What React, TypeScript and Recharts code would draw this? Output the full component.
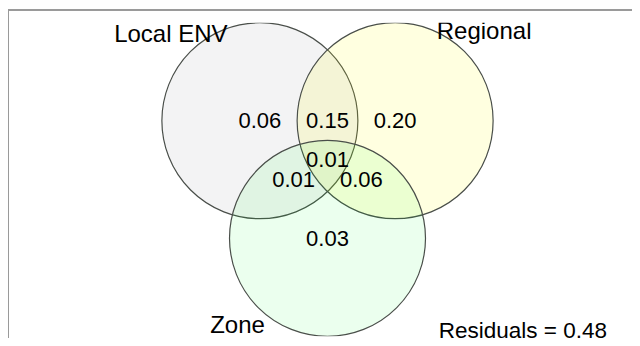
import { ScatterChart, Scatter, XAxis, YAxis, Cell } from "recharts";

// Fitted circles (centres and radii in diagram units)
const setNames = ["Local ENV", "Regional", "Zone"];
const centerX = [-0.69, 0.69, 0];
const centerY = [0.6, 0.6, -0.6];
const radii = [1, 1, 1];

// Proportion of variance for each region, listed by the sets it belongs to
const regionSets = [[0], [0, 1], [1], [0, 1, 2], [0, 2], [1, 2], [2]];
const regionValues = [0.06, 0.15, 0.2, 0.01, 0.01, 0.06, 0.03];
const residuals = 0.48;

const WIDTH = 640;
const HEIGHT = 346;
const MARGIN = { top: 22.7, right: 18.5, bottom: 9.7, left: 33.5 };
const X_DOMAIN: [number, number] = [-3, 3];
const Y_DOMAIN: [number, number] = [-1.6, 1.6];
const PX_PER_UNIT = (WIDTH - MARGIN.left - MARGIN.right) / (X_DOMAIN[1] - X_DOMAIN[0]);

const FILLS = ["#c4c4c8", "#ffff00", "#00ff28"];
const OPACITY = [0.2, 0.12, 0.08];
const FONT = "'Liberation Sans', Arial, sans-serif";

// where each set name sits relative to its circle centre (px)
const NAME_OFFSET = [
  { dx: -89, dy: -79 },
  { dx: 89, dy: -82 },
  { dx: -90, dy: 95 },
];

const circles = setNames.map((name, i) => ({
  name,
  idx: i,
  x: centerX[i],
  y: centerY[i],
  r: radii[i],
}));

// region labels sit at the mean of the centres of the circles they share
const regions = regionSets.map((s, i) => ({
  x: s.reduce((a, k) => a + centerX[k], 0) / s.length,
  y: s.reduce((a, k) => a + centerY[k], 0) / s.length,
  value: regionValues[i],
}));

const CircleShape = (props: any) => {
  const { cx, cy, payload, fill } = props;
  return (
    <ellipse
      cx={cx}
      cy={cy}
      rx={payload.r * PX_PER_UNIT}
      ry={payload.r * PX_PER_UNIT}
      fill={fill}
      fillOpacity={OPACITY[payload.idx]}
      stroke="#4a4f4a"
      strokeWidth={1.2}
    />
  );
};

const NameShape = (props: any) => {
  const { cx, cy, payload } = props;
  const off = NAME_OFFSET[payload.idx];
  return (
    <text
      x={cx + off.dx}
      y={cy + off.dy}
      textAnchor="middle"
      fontFamily={FONT}
      fontSize={24}
      fill="#000"
    >
      {payload.name}
    </text>
  );
};

const ValueShape = (props: any) => {
  const { cx, cy, payload } = props;
  return (
    <text
      x={cx}
      y={cy}
      dy="0.34em"
      textAnchor="middle"
      fontFamily={FONT}
      fontSize={22}
      fill="#000"
    >
      {payload.value.toFixed(2)}
    </text>
  );
};

export default function App() {
  return (
    <div style={{ margin: -8, width: WIDTH, height: HEIGHT, background: "#fff" }}>
      <ScatterChart width={WIDTH} height={HEIGHT} margin={MARGIN}>
        <rect x={8} y={10} width={700} height={400} fill="none" stroke="#9a9a9a" strokeWidth={2} />
        <XAxis type="number" dataKey="x" domain={X_DOMAIN} allowDataOverflow hide />
        <YAxis type="number" dataKey="y" domain={Y_DOMAIN} allowDataOverflow hide />
        <Scatter data={circles} shape={CircleShape} isAnimationActive={false}>
          {circles.map((c) => (
            <Cell key={c.name} fill={FILLS[c.idx]} />
          ))}
        </Scatter>
        <Scatter data={regions} shape={ValueShape} isAnimationActive={false} />
        <Scatter data={circles} shape={NameShape} isAnimationActive={false} />
        <text x={607} y={338} textAnchor="end" fontFamily={FONT} fontSize={22.5} fill="#000">
          {`Residuals = ${residuals.toFixed(2)}`}
        </text>
      </ScatterChart>
    </div>
  );
}
